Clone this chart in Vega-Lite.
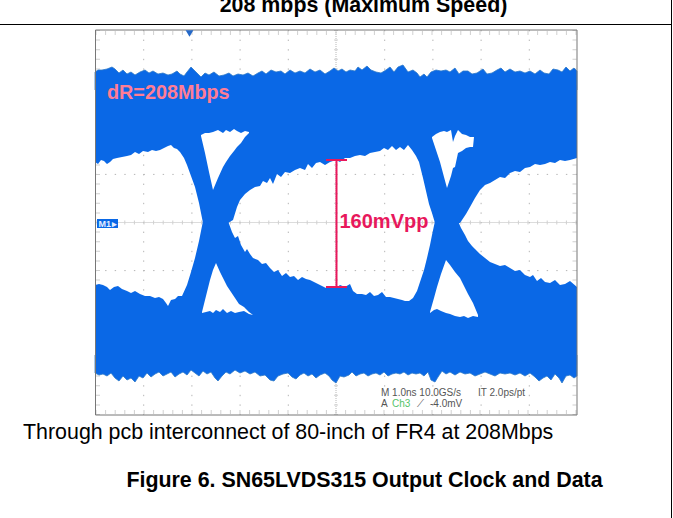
{"$schema":"https://vega.github.io/schema/vega-lite/v6.json","width":673,"height":518,"autosize":"none","padding":0,"background":"white","config":{"view":{"stroke":null}},
"datasets":{
"page":[{"x":0,"y":24.5,"x2":671,"y2":24.5},{"x":671.5,"y":0,"x2":671.5,"y2":518}],
"grid":[{"x":143.7,"y":30,"x2":143.7,"y2":415},{"x":191.9,"y":30,"x2":191.9,"y2":415},{"x":240.1,"y":30,"x2":240.1,"y2":415},{"x":288.3,"y":30,"x2":288.3,"y2":415},{"x":384.7,"y":30,"x2":384.7,"y2":415},{"x":432.9,"y":30,"x2":432.9,"y2":415},{"x":481.1,"y":30,"x2":481.1,"y2":415},{"x":529.3,"y":30,"x2":529.3,"y2":415},{"x":95.5,"y":78.1,"x2":577,"y2":78.1},{"x":95.5,"y":126.2,"x2":577,"y2":126.2},{"x":95.5,"y":174.4,"x2":577,"y2":174.4},{"x":95.5,"y":270.6,"x2":577,"y2":270.6},{"x":95.5,"y":318.8,"x2":577,"y2":318.8},{"x":95.5,"y":366.9,"x2":577,"y2":366.9}],
"centre":[{"x":336,"y":30,"x2":336,"y2":415},{"x":95.5,"y":222.5,"x2":577,"y2":222.5}],
"edgeTicks":[{"x":95.5,"y":33,"x2":577,"y2":33},{"x":95.5,"y":412,"x2":577,"y2":412},{"x":98,"y":30,"x2":98,"y2":415},{"x":574.5,"y":30,"x2":574.5,"y2":415},{"x":336,"y":30,"x2":336,"y2":415},{"x":95.5,"y":222.5,"x2":577,"y2":222.5}],
"frame":[{"x":95.5,"y":30,"x2":577,"y2":30},{"x":95.5,"y":415,"x2":577,"y2":415},{"x":95.5,"y":30,"x2":95.5,"y2":415},{"x":577,"y":30,"x2":577,"y2":415}],
"cursor":[{"x":336.5,"y":160,"x2":336.5,"y2":287},{"x":326,"y":160,"x2":347,"y2":160},{"x":326,"y":287,"x2":347,"y2":287}],
"topNoise":[{"x":95,"y":72},{"x":98,"y":70},{"x":102,"y":70},{"x":107,"y":69},{"x":112,"y":67},{"x":115,"y":69},{"x":119,"y":73},{"x":123,"y":70},{"x":127,"y":74},{"x":131,"y":72},{"x":135,"y":75},{"x":140,"y":72},{"x":145,"y":70},{"x":149,"y":73},{"x":153,"y":71},{"x":158,"y":74},{"x":163,"y":73},{"x":168,"y":75},{"x":172,"y":74},{"x":177,"y":71},{"x":180,"y":74},{"x":184,"y":76},{"x":187,"y":72},{"x":191,"y":67},{"x":194,"y":70},{"x":198,"y":74},{"x":201,"y":77},{"x":205,"y":73},{"x":209,"y":75},{"x":214,"y":72},{"x":219,"y":76},{"x":224,"y":75},{"x":229,"y":73},{"x":233,"y":76},{"x":238,"y":74},{"x":243,"y":75},{"x":248,"y":73},{"x":253,"y":76},{"x":258,"y":73},{"x":262,"y":71},{"x":266,"y":74},{"x":271,"y":70},{"x":276,"y":72},{"x":281,"y":71},{"x":285,"y":74},{"x":290,"y":70},{"x":295,"y":73},{"x":300,"y":71},{"x":305,"y":73},{"x":310,"y":69},{"x":315,"y":72},{"x":320,"y":70},{"x":325,"y":74},{"x":330,"y":71},{"x":334,"y":68},{"x":338,"y":71},{"x":342,"y":69},{"x":346,"y":72},{"x":350,"y":70},{"x":355,"y":71},{"x":358,"y":67},{"x":362,"y":70},{"x":367,"y":66},{"x":371,"y":70},{"x":376,"y":72},{"x":381,"y":73},{"x":386,"y":70},{"x":390,"y":67},{"x":394,"y":72},{"x":398,"y":67},{"x":403,"y":65},{"x":408,"y":72},{"x":413,"y":70},{"x":417,"y":73},{"x":420,"y":77},{"x":424,"y":74},{"x":427,"y":77},{"x":431,"y":72},{"x":436,"y":70},{"x":441,"y":71},{"x":446,"y":70},{"x":450,"y":72},{"x":455,"y":68},{"x":459,"y":74},{"x":463,"y":71},{"x":468,"y":71},{"x":472,"y":74},{"x":477,"y":73},{"x":483,"y":69},{"x":487,"y":74},{"x":492,"y":73},{"x":497,"y":70},{"x":501,"y":68},{"x":505,"y":72},{"x":510,"y":69},{"x":515,"y":72},{"x":520,"y":71},{"x":525,"y":73},{"x":530,"y":71},{"x":535,"y":74},{"x":540,"y":70},{"x":544,"y":73},{"x":549,"y":74},{"x":553,"y":69},{"x":558,"y":70},{"x":562,"y":72},{"x":566,"y":67},{"x":570,"y":71},{"x":574,"y":68},{"x":577,"y":71}],
"bottomNoise":[{"x":95,"y":373},{"x":99,"y":375},{"x":103,"y":374},{"x":107,"y":376},{"x":111,"y":373},{"x":115,"y":378},{"x":119,"y":381},{"x":123,"y":376},{"x":127,"y":380},{"x":131,"y":378},{"x":135,"y":382},{"x":139,"y":376},{"x":143,"y":378},{"x":147,"y":373},{"x":151,"y":377},{"x":155,"y":374},{"x":159,"y":372},{"x":163,"y":376},{"x":167,"y":374},{"x":171,"y":372},{"x":175,"y":377},{"x":179,"y":374},{"x":183,"y":372},{"x":187,"y":375},{"x":191,"y":370},{"x":195,"y":373},{"x":199,"y":376},{"x":203,"y":371},{"x":207,"y":374},{"x":211,"y":372},{"x":215,"y":378},{"x":218,"y":381},{"x":222,"y":376},{"x":226,"y":372},{"x":230,"y":374},{"x":235,"y":370},{"x":240,"y":373},{"x":245,"y":371},{"x":250,"y":374},{"x":255,"y":372},{"x":260,"y":376},{"x":265,"y":375},{"x":270,"y":380},{"x":274,"y":381},{"x":278,"y":376},{"x":283,"y":374},{"x":288,"y":373},{"x":292,"y":377},{"x":296,"y":379},{"x":300,"y":375},{"x":304,"y":373},{"x":308,"y":376},{"x":312,"y":374},{"x":316,"y":378},{"x":320,"y":375},{"x":325,"y":373},{"x":329,"y":376},{"x":332,"y":380},{"x":336,"y":383},{"x":340,"y":376},{"x":344,"y":377},{"x":349,"y":375},{"x":352,"y":372},{"x":356,"y":376},{"x":360,"y":374},{"x":364,"y":373},{"x":368,"y":376},{"x":372,"y":374},{"x":376,"y":373},{"x":380,"y":375},{"x":384,"y":372},{"x":388,"y":376},{"x":392,"y":374},{"x":396,"y":373},{"x":400,"y":374},{"x":404,"y":372},{"x":408,"y":375},{"x":412,"y":373},{"x":416,"y":374},{"x":420,"y":373},{"x":424,"y":376},{"x":428,"y":372},{"x":431,"y":380},{"x":435,"y":382},{"x":438,"y":377},{"x":442,"y":371},{"x":446,"y":374},{"x":450,"y":372},{"x":455,"y":375},{"x":460,"y":372},{"x":465,"y":374},{"x":470,"y":373},{"x":475,"y":376},{"x":480,"y":374},{"x":485,"y":372},{"x":490,"y":374},{"x":495,"y":376},{"x":500,"y":373},{"x":505,"y":374},{"x":510,"y":373},{"x":515,"y":375},{"x":520,"y":373},{"x":525,"y":376},{"x":530,"y":373},{"x":535,"y":377},{"x":539,"y":381},{"x":543,"y":378},{"x":547,"y":376},{"x":551,"y":380},{"x":555,"y":374},{"x":559,"y":378},{"x":562,"y":383},{"x":566,"y":376},{"x":570,"y":375},{"x":574,"y":378},{"x":577,"y":376}],
"upperEdge":[{"x":95,"y":162},{"x":98,"y":164},{"x":101,"y":160},{"x":104,"y":161},{"x":107,"y":164},{"x":110,"y":162},{"x":113,"y":159},{"x":117,"y":158},{"x":122,"y":157},{"x":127,"y":156},{"x":131,"y":155},{"x":135,"y":152},{"x":139,"y":154},{"x":143,"y":151},{"x":148,"y":152},{"x":152,"y":150},{"x":156,"y":151},{"x":160,"y":150},{"x":164,"y":148},{"x":168,"y":146},{"x":171,"y":145},{"x":174,"y":148},{"x":177,"y":149},{"x":180,"y":152},{"x":184,"y":158},{"x":187,"y":165},{"x":191,"y":176},{"x":195,"y":187},{"x":199,"y":203},{"x":203,"y":223},{"x":228,"y":223},{"x":233,"y":220},{"x":237,"y":207},{"x":240,"y":200},{"x":245,"y":194},{"x":250,"y":190},{"x":255,"y":187},{"x":260,"y":186},{"x":263,"y":181},{"x":267,"y":183},{"x":270,"y":178},{"x":273,"y":184},{"x":277,"y":174},{"x":281,"y":177},{"x":285,"y":172},{"x":290,"y":173},{"x":295,"y":170},{"x":300,"y":168},{"x":305,"y":170},{"x":308,"y":164},{"x":312,"y":168},{"x":316,"y":163},{"x":320,"y":162},{"x":325,"y":165},{"x":330,"y":162},{"x":336,"y":160},{"x":340,"y":162},{"x":345,"y":158},{"x":350,"y":158},{"x":355,"y":156},{"x":360,"y":155},{"x":365,"y":156},{"x":370,"y":153},{"x":375,"y":152},{"x":380,"y":151},{"x":384,"y":148},{"x":388,"y":150},{"x":392,"y":146},{"x":396,"y":150},{"x":400,"y":147},{"x":404,"y":150},{"x":408,"y":145},{"x":412,"y":150},{"x":416,"y":156},{"x":419,"y":162},{"x":423,"y":178},{"x":426,"y":191},{"x":429,"y":204},{"x":432,"y":213},{"x":435,"y":223},{"x":460,"y":223},{"x":462,"y":220},{"x":466,"y":214},{"x":470,"y":207},{"x":475,"y":198},{"x":480,"y":190},{"x":485,"y":185},{"x":490,"y":183},{"x":495,"y":180},{"x":500,"y":177},{"x":505,"y":178},{"x":510,"y":173},{"x":515,"y":171},{"x":520,"y":172},{"x":525,"y":168},{"x":530,"y":167},{"x":535,"y":164},{"x":540,"y":165},{"x":545,"y":164},{"x":550,"y":162},{"x":555,"y":163},{"x":560,"y":160},{"x":565,"y":161},{"x":570,"y":160},{"x":577,"y":158}],
"lowerEdge":[{"x":95,"y":285},{"x":99,"y":284},{"x":103,"y":285},{"x":107,"y":287},{"x":110,"y":290},{"x":114,"y":287},{"x":118,"y":286},{"x":122,"y":289},{"x":127,"y":291},{"x":131,"y":293},{"x":135,"y":291},{"x":140,"y":294},{"x":145,"y":296},{"x":150,"y":296},{"x":155,"y":298},{"x":159,"y":297},{"x":163,"y":299},{"x":166,"y":303},{"x":168,"y":306},{"x":171,"y":300},{"x":175,"y":299},{"x":178,"y":296},{"x":182,"y":296},{"x":187,"y":285},{"x":191,"y":272},{"x":195,"y":258},{"x":199,"y":241},{"x":203,"y":221},{"x":228,"y":221},{"x":232,"y":232},{"x":235,"y":238},{"x":238,"y":236},{"x":241,"y":245},{"x":245,"y":252},{"x":247,"y":249},{"x":250,"y":254},{"x":253,"y":258},{"x":258,"y":260},{"x":262,"y":264},{"x":266,"y":263},{"x":270,"y":268},{"x":274,"y":272},{"x":278,"y":270},{"x":282,"y":276},{"x":286,"y":273},{"x":290,"y":277},{"x":294,"y":276},{"x":298,"y":280},{"x":302,"y":277},{"x":306,"y":279},{"x":310,"y":280},{"x":314,"y":282},{"x":318,"y":284},{"x":322,"y":286},{"x":326,"y":288},{"x":330,"y":287},{"x":336,"y":288},{"x":340,"y":285},{"x":345,"y":287},{"x":350,"y":284},{"x":353,"y":291},{"x":357,"y":294},{"x":362,"y":294},{"x":366,"y":295},{"x":370,"y":292},{"x":374,"y":296},{"x":378,"y":295},{"x":382,"y":292},{"x":386,"y":297},{"x":390,"y":297},{"x":394,"y":298},{"x":398,"y":299},{"x":402,"y":300},{"x":405,"y":301},{"x":409,"y":301},{"x":413,"y":298},{"x":417,"y":291},{"x":420,"y":282},{"x":424,"y":270},{"x":427,"y":258},{"x":430,"y":245},{"x":432,"y":235},{"x":435,"y":221},{"x":458,"y":221},{"x":461,"y":228},{"x":465,"y":235},{"x":468,"y":241},{"x":472,"y":246},{"x":475,"y":249},{"x":480,"y":254},{"x":485,"y":258},{"x":490,"y":262},{"x":495,"y":264},{"x":500,"y":266},{"x":505,"y":265},{"x":510,"y":268},{"x":515,"y":271},{"x":520,"y":270},{"x":525,"y":275},{"x":530,"y":277},{"x":533,"y":275},{"x":537,"y":281},{"x":541,"y":278},{"x":545,"y":282},{"x":550,"y":283},{"x":555,"y":280},{"x":560,"y":285},{"x":565,"y":284},{"x":570,"y":281},{"x":577,"y":287}],
"holes":[{"s":"a","x":201,"y":135,"y2":136},{"s":"a","x":205,"y":133,"y2":153},{"s":"a","x":209,"y":133,"y2":172},{"s":"a","x":213,"y":132,"y2":190},{"s":"a","x":218,"y":130,"y2":178},{"s":"a","x":223,"y":133,"y2":167},{"s":"a","x":226,"y":130,"y2":162},{"s":"a","x":230,"y":132,"y2":156},{"s":"a","x":234,"y":129,"y2":151},{"s":"a","x":237,"y":131,"y2":147},{"s":"a","x":241,"y":133,"y2":143},{"s":"a","x":245,"y":131,"y2":137},{"s":"a","x":249,"y":132,"y2":133},{"s":"b","x":202,"y":312,"y2":313},{"s":"b","x":206,"y":296,"y2":312},{"s":"b","x":210,"y":280,"y2":311},{"s":"b","x":213,"y":270,"y2":313},{"s":"b","x":216,"y":263,"y2":310},{"s":"b","x":220,"y":272,"y2":312},{"s":"b","x":223,"y":278,"y2":309},{"s":"b","x":227,"y":286,"y2":313},{"s":"b","x":231,"y":292,"y2":311},{"s":"b","x":235,"y":298,"y2":313},{"s":"b","x":239,"y":304,"y2":312},{"s":"b","x":244,"y":307,"y2":311},{"s":"b","x":249,"y":312,"y2":314},{"s":"b","x":253,"y":315,"y2":315},{"s":"c","x":432,"y":137,"y2":138},{"s":"c","x":436,"y":134,"y2":150},{"s":"c","x":440,"y":132,"y2":162},{"s":"c","x":444,"y":131,"y2":177},{"s":"c","x":447,"y":132,"y2":188},{"s":"c","x":451,"y":130,"y2":176},{"s":"c","x":453,"y":142,"y2":168},{"s":"c","x":455,"y":136,"y2":167},{"s":"c","x":458,"y":130,"y2":153},{"s":"c","x":462,"y":134,"y2":151},{"s":"c","x":466,"y":135,"y2":148},{"s":"c","x":470,"y":137,"y2":147},{"s":"c","x":473,"y":137,"y2":147},{"s":"c","x":474,"y":137,"y2":137},{"s":"d","x":430,"y":312,"y2":313},{"s":"d","x":434,"y":298,"y2":310},{"s":"d","x":437,"y":287,"y2":309},{"s":"d","x":441,"y":274,"y2":311},{"s":"d","x":446,"y":260,"y2":313},{"s":"d","x":450,"y":265,"y2":314},{"s":"d","x":455,"y":272,"y2":316},{"s":"d","x":460,"y":278,"y2":317},{"s":"d","x":464,"y":286,"y2":316},{"s":"d","x":468,"y":294,"y2":318},{"s":"d","x":473,"y":303,"y2":316},{"s":"d","x":478,"y":315,"y2":317}]
},
"encoding":{"x":{"field":"x","type":"quantitative","axis":null,"scale":{"domain":[0,673],"nice":false,"zero":false}},"y":{"field":"y","type":"quantitative","axis":null,"scale":{"domain":[518,0],"nice":false,"zero":false}}},
"layer":[
{"data":{"name":"page"},"mark":{"type":"rule","color":"#000","strokeWidth":1},"encoding":{"x2":{"field":"x2"},"y2":{"field":"y2"}}},
{"data":{"name":"grid"},"mark":{"type":"rule","color":"#b4b4b4","strokeWidth":1,"strokeDash":[1.4,8.2]},"encoding":{"x2":{"field":"x2"},"y2":{"field":"y2"}}},
{"data":{"name":"centre"},"mark":{"type":"rule","color":"#b8b8b8","strokeWidth":1,"strokeDash":[1,1]},"encoding":{"x2":{"field":"x2"},"y2":{"field":"y2"}}},
{"data":{"name":"edgeTicks"},"mark":{"type":"rule","color":"#d0d0d0","strokeWidth":4,"strokeDash":[1,8.6]},"encoding":{"x2":{"field":"x2"},"y2":{"field":"y2"}}},
{"data":{"name":"topNoise"},"mark":{"type":"area","color":"#0a68e6","stroke":"#2c78c8","strokeWidth":0.8},"encoding":{"y2":{"datum":90}}},
{"data":{"name":"bottomNoise"},"mark":{"type":"area","color":"#0a68e6","stroke":"#2c78c8","strokeWidth":0.8},"encoding":{"y2":{"datum":355}}},
{"data":{"name":"upperEdge"},"mark":{"type":"area","color":"#0a68e6"},"encoding":{"y2":{"datum":85}}},
{"data":{"name":"lowerEdge"},"mark":{"type":"area","color":"#0a68e6"},"encoding":{"y2":{"datum":365}}},
{"data":{"name":"holes"},"mark":{"type":"area","color":"#ffffff"},"encoding":{"y2":{"field":"y2"},"detail":{"field":"s"}}},
{"data":{"name":"frame"},"mark":{"type":"rule","color":"#777777","strokeWidth":1},"encoding":{"x2":{"field":"x2"},"y2":{"field":"y2"}}},
{"data":{"name":"cursor"},"mark":{"type":"rule","color":"#e8185c","strokeWidth":2},"encoding":{"x2":{"field":"x2"},"y2":{"field":"y2"}}},
{"data":{"values":[{"x":189.5,"y":33.5}]},"mark":{"type":"point","shape":"triangle-down","filled":true,"color":"#2468c8","size":60,"opacity":1}},
{"data":{"values":[{"x":97,"y":219,"x2":118,"y2":228}]},"mark":{"type":"rect","color":"#0a68e6"},"encoding":{"x2":{"field":"x2"},"y2":{"field":"y2"}}},
{"data":{"values":[{"x":98.5,"y":223.8,"t":"M1"},{"x":112,"y":223.8,"t":"▸"}]},"mark":{"type":"text","align":"left","baseline":"middle","font":"Liberation Sans","fontSize":9,"fontWeight":"bold","color":"#e6eeff"},"encoding":{"text":{"field":"t"}}},
{"data":{"values":[{"x":107,"y":93,"t":"dR=208Mbps"}]},"mark":{"type":"text","align":"left","baseline":"middle","font":"Liberation Sans","fontSize":19.8,"fontWeight":"bold","color":"#ff7d95"},"encoding":{"text":{"field":"t"}}},
{"data":{"values":[{"x":339.5,"y":222,"t":"160mVpp"}]},"mark":{"type":"text","align":"left","baseline":"middle","font":"Liberation Sans","fontSize":20,"fontWeight":"bold","color":"#e8185c"},"encoding":{"text":{"field":"t"}}},
{"data":{"values":[{"x":381,"y":392.5,"t":"M 1.0ns 10.0GS/s"},{"x":478,"y":392.5,"t":"IT 2.0ps/pt"},{"x":381,"y":403.5,"t":"A"},{"x":417,"y":403.5,"t":"⟋"},{"x":430,"y":403.5,"t":"-4.0mV"}]},"mark":{"type":"text","align":"left","baseline":"middle","font":"Liberation Sans","fontSize":10,"color":"#555555"},"encoding":{"text":{"field":"t"}}},
{"data":{"values":[{"x":392,"y":403.5,"t":"Ch3"}]},"mark":{"type":"text","align":"left","baseline":"middle","font":"Liberation Sans","fontSize":10,"color":"#55c46a"},"encoding":{"text":{"field":"t"}}},
{"data":{"values":[{"x":363.5,"y":6,"t":"208 mbps (Maximum Speed)"},{"x":364.5,"y":481,"t":"Figure 6. SN65LVDS315 Output Clock and Data"}]},"mark":{"type":"text","align":"center","baseline":"middle","font":"Liberation Sans","fontSize":21.4,"fontWeight":"bold","color":"#000"},"encoding":{"text":{"field":"t"}}},
{"data":{"values":[{"x":23,"y":432.5,"t":"Through pcb interconnect of 80-inch of FR4 at 208Mbps"}]},"mark":{"type":"text","align":"left","baseline":"middle","font":"Liberation Sans","fontSize":21.4,"color":"#000"},"encoding":{"text":{"field":"t"}}}
]}
